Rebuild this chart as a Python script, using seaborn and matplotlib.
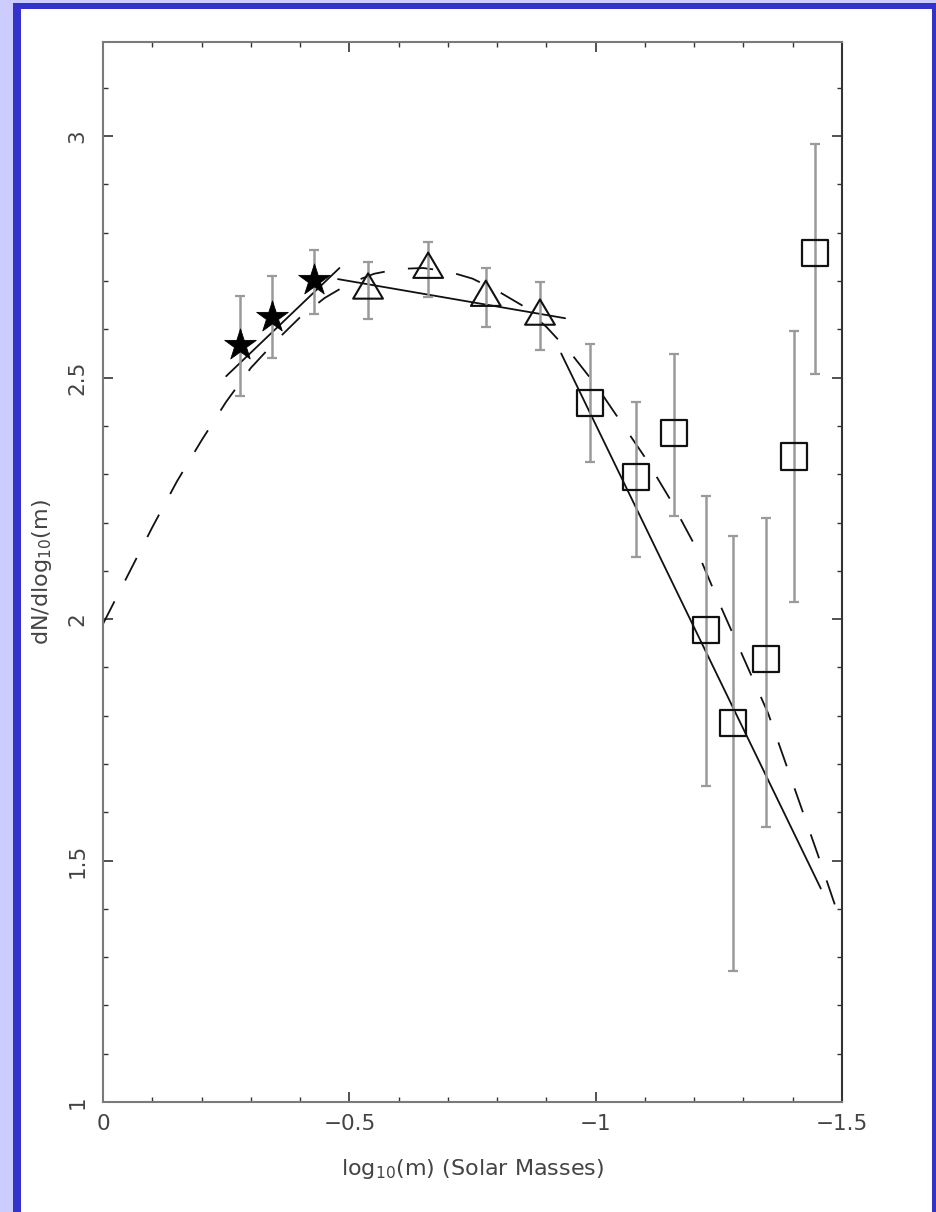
import matplotlib
matplotlib.use("Agg")
import matplotlib.pyplot as plt
from matplotlib.patches import Rectangle
from matplotlib.ticker import FixedLocator, MultipleLocator
from matplotlib.path import Path
import seaborn as sns

# ---- measurements: log10 mass vs dN/dlog10(m) ----
star_logm = [-0.278, -0.343, -0.428]
star_dn = [2.568, 2.625, 2.702]
star_err_lo = [0.106, 0.085, 0.070]
star_err_hi = [0.101, 0.085, 0.062]

tri_logm = [-0.538, -0.660, -0.777, -0.887]
tri_dn = [2.681, 2.724, 2.666, 2.627]
tri_err_lo = [0.059, 0.057, 0.061, 0.070]
tri_err_hi = [0.059, 0.057, 0.061, 0.070]

sq_logm = [-0.988, -1.082, -1.159, -1.224, -1.279, -1.346, -1.402, -1.445]
sq_dn = [2.447, 2.294, 2.385, 1.977, 1.785, 1.917, 2.337, 2.758]
sq_err_lo = [0.122, 0.166, 0.172, 0.323, 0.513, 0.348, 0.302, 0.250]
sq_err_hi = [0.122, 0.155, 0.164, 0.277, 0.387, 0.292, 0.260, 0.226]

# ---- straight-line fits over the three mass ranges ----
fit_hi_logm = [-0.250, -0.480]
fit_hi_dn = [2.503, 2.727]
fit_mid_logm = [-0.477, -0.938]
fit_mid_dn = [2.704, 2.623]
fit_lo_logm = [-0.930, -1.457]
fit_lo_dn = [2.550, 1.442]

# ---- smooth model mass function ----
model_logm = [0.00, -0.05, -0.10, -0.15, -0.20, -0.25, -0.30, -0.35, -0.40,
              -0.45, -0.50, -0.55, -0.60, -0.65, -0.70, -0.75, -0.80, -0.85,
              -0.90, -0.95, -1.00, -1.05, -1.10, -1.15, -1.20, -1.25, -1.30,
              -1.35, -1.40, -1.45, -1.50]
model_dn = [1.990, 2.090, 2.190, 2.285, 2.370, 2.450, 2.520, 2.575, 2.625,
            2.665, 2.695, 2.715, 2.725, 2.727, 2.720, 2.705, 2.680, 2.650,
            2.605, 2.550, 2.485, 2.410, 2.335, 2.250, 2.155, 2.035, 1.920,
            1.805, 1.660, 1.515, 1.365]

x_ticks = [0, -0.5, -1, -1.5]
x_tick_labels = ["0", "\u22120.5", "\u22121", "\u22121.5"]
y_ticks = [1, 1.5, 2, 2.5, 3]
y_tick_labels = ["1", "1.5", "2", "2.5", "3"]

sns.set_theme(style="ticks")
plt.rcParams["font.family"] = ["DejaVu Sans"]
plt.rcParams["mathtext.fontset"] = "dejavusans"

W, H = 936, 1212
fig = plt.figure(figsize=(W / 100, H / 100), dpi=100)
fig.patch.set_facecolor("white")

# page frame
lav, blue = "#ccccff", "#3333cc"
def px_rect(x0, y0, x1, y1, color):
    fig.add_artist(Rectangle((x0 / W, 1 - y1 / H), (x1 - x0) / W, (y1 - y0) / H,
                             transform=fig.transFigure, color=color, lw=0, zorder=0))
px_rect(0, 0, 13, H, lav)
px_rect(0, 0, W, 3, lav)
px_rect(13, 3, 21, H, blue)
px_rect(13, 3, W, 9, blue)
px_rect(932, 3, W, H, blue)

ax = fig.add_axes([103 / W, (H - 1102) / H, (842 - 103) / W, (1102 - 42) / H])
ax.set_facecolor("white")

ink = "#111111"
# model curve and fits
sns.lineplot(x=model_logm, y=model_dn, sort=False, estimator=None, ax=ax,
             color=ink, lw=1.3, linestyle=(0, (14, 13)), zorder=2)
for fx, fy in [(fit_hi_logm, fit_hi_dn), (fit_mid_logm, fit_mid_dn), (fit_lo_logm, fit_lo_dn)]:
    sns.lineplot(x=fx, y=fy, sort=False, estimator=None, ax=ax,
                 color=ink, lw=1.3, zorder=2)

# error bars
for xs, ys, lo, hi in [(star_logm, star_dn, star_err_lo, star_err_hi),
                       (tri_logm, tri_dn, tri_err_lo, tri_err_hi),
                       (sq_logm, sq_dn, sq_err_lo, sq_err_hi)]:
    eb = ax.errorbar(xs, ys, yerr=[lo, hi], fmt="none", ecolor="#9a9a9a",
                     elinewidth=1.8, capsize=3.3, capthick=1.6, zorder=3)
    for cap in eb[1]:
        cap.set_color("#555555")

# markers (triangle centred on its centroid)
tri_marker = Path([(-1, -0.567), (1, -0.567), (0, 1.133), (-1, -0.567)],
                  [Path.MOVETO, Path.LINETO, Path.LINETO, Path.CLOSEPOLY])
sns.scatterplot(x=star_logm, y=star_dn, marker="*", s=570, color="black",
                edgecolor="black", linewidth=0.6, ax=ax, zorder=4)
sns.scatterplot(x=tri_logm, y=tri_dn, marker=tri_marker, s=590, facecolor="none",
                edgecolor=ink, linewidth=1.5, ax=ax, zorder=4)
sns.scatterplot(x=sq_logm, y=sq_dn, marker="s", s=360, facecolor="none",
                edgecolor=ink, linewidth=1.6, ax=ax, zorder=4)

ax.set_xlim(0, -1.5)
ax.set_ylim(1, 3.195)

ax.xaxis.set_major_locator(FixedLocator(x_ticks))
ax.set_xticklabels(x_tick_labels)
ax.yaxis.set_major_locator(FixedLocator(y_ticks))
ax.set_yticklabels(y_tick_labels)
ax.xaxis.set_minor_locator(MultipleLocator(0.1))
ax.yaxis.set_minor_locator(MultipleLocator(0.1))

txt = "#444444"
ax.tick_params(which="both", direction="in", top=True, right=True, color="#333333")
ax.tick_params(which="major", length=7, width=1.2)
ax.tick_params(which="minor", length=3.5, width=1.0)
ax.tick_params(axis="x", which="major", labelsize=15.5, labelcolor=txt, pad=9)
ax.tick_params(axis="y", which="major", labelsize=15.5, labelcolor=txt, pad=11,
               labelrotation=90)
for lbl in ax.get_yticklabels():
    lbl.set_va("center")

for side in ["left", "top", "bottom"]:
    ax.spines[side].set_color("#7a7a7a")
    ax.spines[side].set_linewidth(1.5)
ax.spines["right"].set_color("#333333")
ax.spines["right"].set_linewidth(1.5)

ax.set_xlabel("log$_{10}$(m) (Solar Masses)", fontsize=16, color=txt, labelpad=16)
ax.set_ylabel("dN/dlog$_{10}$(m)", fontsize=16, color=txt, labelpad=10)

fig.savefig("out.png", dpi=100, facecolor="white")
